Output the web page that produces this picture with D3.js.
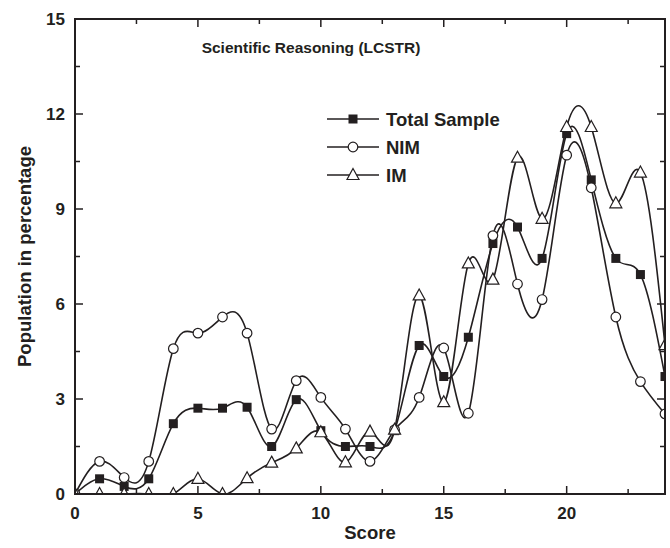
<!DOCTYPE html>
<html>
<head>
<meta charset="utf-8">
<script src="https://cdn.jsdelivr.net/npm/d3@7"></script>
<style>
    body { margin: 0; background: #fff; }
    text { font-family: "Liberation Sans", Arial, sans-serif; font-weight: bold; fill: #231f20; }
    .axis-line { fill: none; stroke: #231f20; stroke-width: 2; }
    .tick-line { stroke: #231f20; stroke-width: 1.5; }
    .series-line { fill: none; stroke: #231f20; stroke-width: 1.6; }
</style>
</head>
<body>
<div id="chart"></div>
<script>
var scores = [0, 1, 2, 3, 4, 5, 6, 7, 8, 9, 10, 11, 12, 13, 14, 15, 16, 17, 18, 19, 20, 21, 22, 23, 24];
var totalSample = [0, 0.48, 0.24, 0.48, 2.22, 2.71, 2.71, 2.74, 1.5, 2.98, 2.0, 1.5, 1.5, 2.0, 4.69, 3.71, 4.95, 7.91, 8.43, 7.44, 11.38, 9.92, 7.44, 6.93, 3.71];
var nim = [0, 1.03, 0.52, 1.03, 4.59, 5.08, 5.59, 5.08, 2.05, 3.58, 3.05, 2.05, 1.03, 2.03, 3.05, 4.61, 2.55, 8.16, 6.63, 6.14, 10.7, 9.67, 5.59, 3.55, 2.53];
var im = [0, 0, 0, 0, 0, 0.48, 0, 0.5, 0.99, 1.44, 1.95, 1.0, 1.97, 2.03, 6.27, 2.9, 7.28, 6.77, 10.62, 8.69, 11.59, 11.59, 9.18, 10.15, 4.7];

var seriesNames = ["Total Sample", "NIM", "IM"];
var seriesSymbols = ["square", "circle", "triangle"];
var xTicks = [0, 5, 10, 15, 20];
var yTicks = [0, 3, 6, 9, 12, 15];

var outerWidth = 670;
var outerHeight = 548;
var margin = {top: 19, right: 5, bottom: 54, left: 75}
    , width = outerWidth - margin.left - margin.right
    , height = outerHeight - margin.top - margin.bottom;

var svg = d3.select("#chart")
    .append("svg")
    .attr("width", outerWidth)
    .attr("height", outerHeight)
    .append("g")
    .attr("transform", "translate(" + margin.left + "," + margin.top + ")");

var xScale = d3.scaleLinear().domain([0, 24]).range([0, width]);
var yScale = d3.scaleLinear().domain([0, 15]).range([height, 0]);

svg.append("defs").append("clipPath")
    .attr("id", "plot-clip")
    .append("rect")
    .attr("width", width)
    .attr("height", height);

// ticks, all pointing inward on the four sides
var xMinor = d3.range(0, 24.01, 2.5);
var yMinor = d3.range(0, 15.01, 1.5);
var ticks = svg.append("g");

xMinor.forEach(function(v) {
    var len = (v % 5 == 0) ? 8 : 5;
    ticks.append("line").attr("class", "tick-line")
        .attr("x1", xScale(v)).attr("x2", xScale(v))
        .attr("y1", height).attr("y2", height - len);
    ticks.append("line").attr("class", "tick-line")
        .attr("x1", xScale(v)).attr("x2", xScale(v))
        .attr("y1", 0).attr("y2", len);
});
yMinor.forEach(function(v) {
    var len = (Math.abs(v % 3) < 0.001) ? 8 : 5;
    ticks.append("line").attr("class", "tick-line")
        .attr("x1", 0).attr("x2", len)
        .attr("y1", yScale(v)).attr("y2", yScale(v));
    ticks.append("line").attr("class", "tick-line")
        .attr("x1", width).attr("x2", width - len)
        .attr("y1", yScale(v)).attr("y2", yScale(v));
});

// tick labels
svg.selectAll(".x-label")
    .data(xTicks)
    .enter()
    .append("text")
    .attr("class", "x-label")
    .attr("x", d => xScale(d))
    .attr("y", height + 25)
    .attr("text-anchor", "middle")
    .style("font-size", "17px")
    .text(d => d);

svg.selectAll(".y-label")
    .data(yTicks)
    .enter()
    .append("text")
    .attr("class", "y-label")
    .attr("x", -10)
    .attr("y", d => yScale(d) + 6)
    .attr("text-anchor", "end")
    .style("font-size", "17px")
    .text(d => d);

// axis titles
svg.append("text")
    .attr("x", width / 2)
    .attr("y", height + 45)
    .attr("text-anchor", "middle")
    .style("font-size", "18.5px")
    .text("Score");

svg.append("text")
    .attr("transform", "translate(-44," + (height / 2) + ") rotate(-90)")
    .attr("text-anchor", "middle")
    .style("font-size", "18.5px")
    .text("Population in percentage");

svg.append("text")
    .attr("x", 236)
    .attr("y", 34)
    .attr("text-anchor", "middle")
    .style("font-size", "15.5px")
    .text("Scientific Reasoning (LCSTR)");

// marker drawing
function drawSymbol(g, kind, x, y) {
    if (kind == "square") {
        g.append("rect")
            .attr("x", x - 4.5).attr("y", y - 4.5)
            .attr("width", 9).attr("height", 9)
            .attr("fill", "#231f20");
    } else if (kind == "circle") {
        g.append("circle")
            .attr("cx", x).attr("cy", y).attr("r", 4.8)
            .attr("fill", "#fff").attr("stroke", "#231f20").attr("stroke-width", 1.2);
    } else {
        g.append("path")
            .attr("d", "M" + x + "," + (y - 6.5) + "L" + (x + 6) + "," + (y + 4.5) + "L" + (x - 6) + "," + (y + 4.5) + "Z")
            .attr("fill", "#fff").attr("stroke", "#231f20").attr("stroke-width", 1.2);
    }
}

var line = d3.line()
    .x(d => xScale(d.score))
    .y(d => yScale(d.value))
    .curve(d3.curveNatural);

var plot = svg.append("g").attr("clip-path", "url(#plot-clip)");

[totalSample, nim, im].forEach(function(values, i) {
    var points = scores.map(function(s, j) { return {score: s, value: values[j]}; });
    plot.append("path")
        .datum(points)
        .attr("class", "series-line")
        .attr("d", line);
    var g = plot.append("g");
    points.forEach(function(p) {
        drawSymbol(g, seriesSymbols[i], xScale(p.score), yScale(p.value));
    });
});

// frame
svg.append("rect")
    .attr("class", "axis-line")
    .attr("width", width)
    .attr("height", height);

// legend
var legend = svg.append("g").attr("transform", "translate(252,100)");
seriesNames.forEach(function(name, i) {
    var row = legend.append("g").attr("transform", "translate(0," + (i * 28) + ")");
    row.append("line")
        .attr("class", "series-line")
        .attr("x1", 0).attr("x2", 52)
        .attr("y1", 0).attr("y2", 0);
    drawSymbol(row, seriesSymbols[i], 26, 0);
    row.append("text")
        .attr("x", 59)
        .attr("y", 7)
        .style("font-size", "18.5px")
        .text(name);
});
</script>
</body>
</html>
